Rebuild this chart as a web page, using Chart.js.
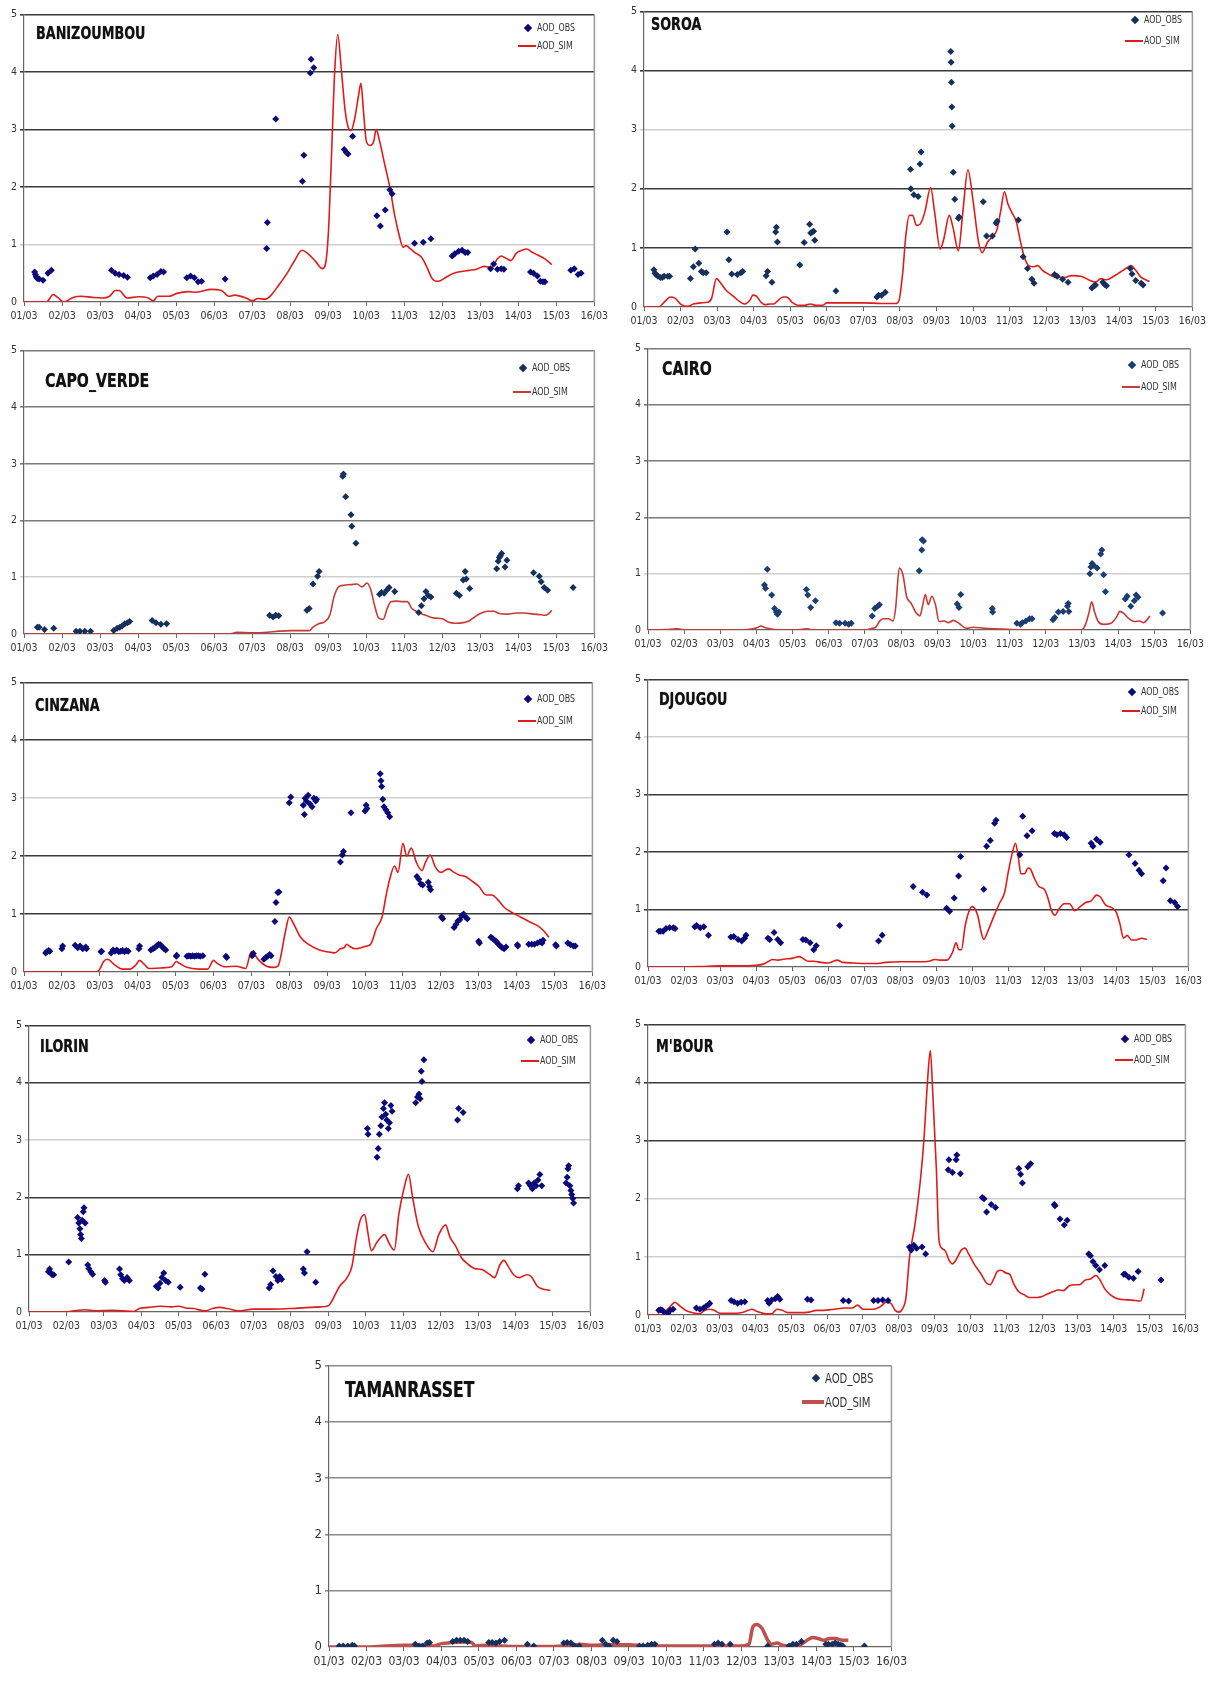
<!DOCTYPE html>
<html lang="en">
<head>
<meta charset="UTF-8">
<title>AOD observed vs simulated — 9 stations</title>
<script src="https://cdn.jsdelivr.net/npm/chart.js@4"></script>
<style>
  * { margin: 0; padding: 0; box-sizing: border-box; }
  body {
    width: 1210px; height: 1682px; position: relative; overflow: hidden; background: #fff;
    font-family: 'Liberation Sans Narrow', 'DejaVu Sans Condensed', sans-serif;
  }
  canvas { position: absolute; }
  .title { position: absolute; font-weight: bold; color: #111; white-space: nowrap; text-shadow: 0 0 1px #666;
           transform: scaleX(0.79); transform-origin: 0 50%; }
  .leg { position: absolute; color: #333; white-space: nowrap; transform: scaleX(0.8); transform-origin: 0 50%; }
  .dia { position: absolute; width: 6px; height: 6px; transform: rotate(45deg); }
  .ln { position: absolute; }
</style>
</head>
<body>
<script>
// x axis: days since 01/03 (0 = 01/03 ... 15 = 16/03)
const days = ['01/03','02/03','03/03','04/03','05/03','06/03','07/03','08/03',
              '09/03','10/03','11/03','12/03','13/03','14/03','15/03','16/03'];
const yTicks = [0, 1, 2, 3, 4, 5];

// ---- BANIZOUMBOU
const BAN_OBS = [[0.28,0.52],[0.3,0.48],[0.32,0.44],[0.35,0.41],[0.4,0.4],[0.5,0.38],[0.63,0.5],[0.72,0.55],
  [2.3,0.55],[2.4,0.5],[2.5,0.48],[2.62,0.46],[2.72,0.43],[3.32,0.42],[3.4,0.45],[3.5,0.48],[3.6,0.53],[3.67,0.52],
  [4.28,0.42],[4.38,0.45],[4.48,0.42],[4.58,0.35],[4.67,0.36],[5.29,0.4],[6.38,0.93],[6.4,1.38],[6.62,3.18],
  [7.32,2.1],[7.36,2.55],[7.53,3.98],[7.55,4.22],[7.62,4.07],[8.42,2.65],[8.48,2.6],[8.52,2.57],[8.64,2.88],
  [9.28,1.5],[9.37,1.32],[9.5,1.6],[9.62,1.95],[9.68,1.88],[10.27,1.02],[10.5,1.04],[10.7,1.1],
  [11.26,0.8],[11.33,0.84],[11.43,0.88],[11.52,0.9],[11.6,0.86],[11.67,0.86],
  [12.27,0.58],[12.35,0.66],[12.45,0.57],[12.55,0.58],[12.62,0.57],
  [13.32,0.52],[13.4,0.5],[13.5,0.45],[13.58,0.36],[13.65,0.35],[13.7,0.35],
  [14.38,0.55],[14.47,0.58],[14.57,0.48],[14.65,0.5]];
const BAN_SIM = [[0,0],[0.59,0],[0.77,0.13],[0.9,0.07],[1.04,0],[1.29,0.08],[1.5,0.1],[1.8,0.08],[2.05,0.07],[2.25,0.1],
  [2.4,0.2],[2.5,0.2],[2.71,0.07],[3.01,0.09],[3.27,0.07],[3.4,0.02],[3.52,0.1],[3.82,0.1],[4.02,0.15],[4.33,0.18],
  [4.53,0.17],[4.93,0.22],[5.19,0.2],[5.39,0.1],[5.54,0.12],[5.84,0.07],[6.0,0.02],[6.15,0.06],[6.35,0.05],
  [6.5,0.12],[6.65,0.25],[6.9,0.48],[7.1,0.7],[7.31,0.9],[7.45,0.85],[7.65,0.72],[7.85,0.58],[7.95,0.75],[8.02,1.4],
  [8.1,2.8],[8.17,4.0],[8.25,4.65],[8.35,4.0],[8.45,3.3],[8.55,3.0],[8.6,2.98],[8.7,3.2],[8.8,3.6],[8.86,3.8],
  [8.93,3.3],[9.0,2.8],[9.1,2.72],[9.2,2.8],[9.26,3.0],[9.35,2.8],[9.5,2.35],[9.62,2.0],[9.75,1.5],[9.87,1.15],
  [9.97,0.95],[10.05,0.98],[10.15,0.93],[10.3,0.85],[10.45,0.78],[10.6,0.6],[10.72,0.42],[10.85,0.36],[10.95,0.37],
  [11.1,0.43],[11.3,0.5],[11.5,0.53],[11.7,0.55],[11.9,0.57],[12.1,0.62],[12.3,0.6],[12.45,0.75],[12.55,0.8],
  [12.7,0.75],[12.8,0.72],[12.95,0.85],[13.1,0.9],[13.22,0.92],[13.35,0.87],[13.5,0.82],[13.7,0.75],[13.88,0.65]];

// ---- SOROA
const SOR_OBS = [[0.27,0.63],[0.3,0.57],[0.33,0.55],[0.38,0.52],[0.45,0.5],[0.5,0.5],[0.55,0.52],[0.65,0.52],[0.7,0.52],
  [1.27,0.48],[1.35,0.68],[1.4,0.98],[1.5,0.74],[1.57,0.6],[1.62,0.58],[1.7,0.58],
  [2.27,1.27],[2.32,0.8],[2.4,0.56],[2.55,0.55],[2.65,0.58],[2.7,0.6],
  [3.34,0.53],[3.38,0.6],[3.5,0.42],[3.6,1.27],[3.62,1.35],[3.65,1.1],
  [4.26,0.71],[4.38,1.09],[4.53,1.4],[4.56,1.25],[4.6,1.27],[4.64,1.28],[4.67,1.13],[5.25,0.27],
  [6.37,0.17],[6.42,0.2],[6.5,0.2],[6.6,0.25],
  [7.29,2.33],[7.3,2.0],[7.38,1.9],[7.5,1.87],[7.55,2.42],[7.58,2.62],
  [8.39,4.32],[8.4,4.14],[8.41,3.8],[8.42,3.38],[8.43,3.06],[8.46,2.28],[8.5,1.82],[8.6,1.5],[8.62,1.52],
  [9.28,1.78],[9.37,1.2],[9.53,1.2],[9.63,1.42],[9.66,1.45],
  [10.24,1.47],[10.37,0.85],[10.49,0.65],[10.61,0.47],[10.67,0.4],
  [11.23,0.55],[11.3,0.52],[11.45,0.47],[11.6,0.42],
  [12.25,0.32],[12.3,0.35],[12.35,0.37],[12.55,0.42],[12.6,0.38],[12.65,0.36],
  [13.3,0.65],[13.35,0.56],[13.45,0.45],[13.6,0.4],[13.65,0.37]];
const SOR_SIM = [[0,0],[0.4,0],[0.55,0.08],[0.72,0.17],[0.85,0.15],[1.0,0.05],[1.2,0.01],[1.35,0.05],[1.55,0.07],
  [1.75,0.08],[1.85,0.15],[1.98,0.48],[2.1,0.4],[2.25,0.28],[2.45,0.18],[2.6,0.1],[2.75,0.05],[2.9,0.12],[2.98,0.2],
  [3.08,0.18],[3.2,0.08],[3.3,0.04],[3.45,0.05],[3.55,0.05],[3.65,0.1],[3.8,0.17],[3.9,0.17],[4.05,0.08],[4.2,0.03],
  [4.4,0.03],[4.55,0.05],[4.7,0.03],[4.9,0.03],[5.0,0.07],[5.5,0.07],[6.0,0.07],[6.5,0.06],[6.9,0.06],[6.98,0.12],
  [7.08,0.6],[7.16,1.2],[7.26,1.55],[7.35,1.55],[7.45,1.38],[7.55,1.4],[7.68,1.6],[7.84,2.02],[7.95,1.6],[8.1,0.98],
  [8.2,1.15],[8.35,1.55],[8.45,1.35],[8.6,0.95],[8.72,1.6],[8.86,2.32],[9.0,1.8],[9.15,1.1],[9.25,0.92],[9.4,1.1],
  [9.55,1.2],[9.65,1.3],[9.75,1.6],[9.86,1.95],[9.95,1.75],[10.06,1.6],[10.18,1.45],[10.3,1.1],[10.4,0.85],
  [10.52,0.7],[10.65,0.68],[10.77,0.7],[10.9,0.62],[11.05,0.56],[11.3,0.5],[11.5,0.5],[11.7,0.53],[11.95,0.52],
  [12.2,0.45],[12.35,0.42],[12.5,0.48],[12.65,0.46],[12.85,0.52],[13.05,0.6],[13.2,0.66],[13.32,0.7],[13.45,0.62],
  [13.6,0.5],[13.72,0.46],[13.83,0.43]];

// ---- CAPO_VERDE
const CAP_OBS = [[0.35,0.12],[0.4,0.12],[0.54,0.08],[0.78,0.1],[1.37,0.05],[1.47,0.05],[1.6,0.05],[1.75,0.05],
  [2.36,0.06],[2.45,0.1],[2.52,0.12],[2.58,0.14],[2.65,0.18],[2.72,0.2],[2.78,0.22],
  [3.37,0.24],[3.47,0.2],[3.6,0.17],[3.75,0.18],[6.46,0.33],[6.55,0.3],[6.62,0.33],[6.7,0.32],
  [7.44,0.42],[7.5,0.45],[7.6,0.88],[7.72,1.02],[7.76,1.1],
  [8.38,2.78],[8.4,2.82],[8.46,2.42],[8.6,2.1],[8.62,1.9],[8.73,1.6],
  [9.35,0.7],[9.4,0.73],[9.47,0.72],[9.55,0.78],[9.6,0.82],[9.75,0.75],
  [10.38,0.38],[10.45,0.5],[10.52,0.62],[10.57,0.75],[10.63,0.68],[10.7,0.65],
  [11.37,0.72],[11.45,0.68],[11.55,0.95],[11.6,1.1],[11.63,0.97],[11.72,0.8],
  [12.43,1.15],[12.47,1.28],[12.5,1.35],[12.53,1.38],[12.56,1.42],[12.65,1.18],[12.7,1.3],
  [13.4,1.08],[13.55,1.02],[13.6,0.92],[13.68,0.82],[13.77,0.77],[14.44,0.82]];
const CAP_SIM = [[0,0],[5.4,0],[5.6,0.03],[6.0,0.02],[6.4,0.03],[6.7,0.05],[7.0,0.06],[7.3,0.06],[7.5,0.06],[7.6,0.12],
  [7.75,0.18],[7.92,0.22],[8.05,0.35],[8.15,0.65],[8.26,0.82],[8.41,0.86],[8.6,0.87],[8.76,0.88],[8.89,0.83],[9.02,0.9],
  [9.12,0.78],[9.22,0.5],[9.33,0.28],[9.45,0.26],[9.55,0.45],[9.65,0.57],[9.8,0.58],[9.95,0.57],[10.08,0.57],
  [10.2,0.45],[10.38,0.38],[10.6,0.32],[10.8,0.28],[11.0,0.27],[11.15,0.21],[11.35,0.19],[11.55,0.2],[11.7,0.23],
  [11.85,0.3],[12.0,0.36],[12.2,0.4],[12.35,0.4],[12.5,0.36],[12.72,0.35],[12.95,0.37],[13.15,0.37],[13.4,0.35],
  [13.6,0.34],[13.7,0.33],[13.8,0.36],[13.88,0.42]];

// ---- CAIRO
const CAI_OBS = [[3.22,0.8],[3.25,0.74],[3.3,1.08],[3.42,0.62],[3.5,0.38],[3.55,0.32],[3.58,0.28],[3.62,0.32],
  [4.38,0.72],[4.42,0.62],[4.5,0.4],[4.63,0.52],[5.2,0.13],[5.3,0.12],[5.45,0.12],[5.55,0.1],[5.62,0.12],
  [6.2,0.25],[6.27,0.38],[6.35,0.42],[6.4,0.45],[7.5,1.05],[7.57,1.42],[7.58,1.6],[7.62,1.58],
  [8.55,0.46],[8.6,0.4],[8.65,0.63],[9.52,0.38],[9.53,0.32],
  [10.2,0.12],[10.3,0.1],[10.35,0.13],[10.45,0.16],[10.55,0.2],[10.62,0.2],
  [11.2,0.18],[11.25,0.22],[11.35,0.32],[11.48,0.33],[11.6,0.42],[11.62,0.47],[11.64,0.33],
  [12.22,1.0],[12.25,1.12],[12.28,1.18],[12.32,1.15],[12.42,1.1],[12.52,1.35],[12.55,1.42],[12.6,0.98],[12.65,0.68],
  [13.2,0.55],[13.25,0.6],[13.35,0.42],[13.45,0.52],[13.5,0.62],[13.55,0.58],[14.23,0.3]];
const CAI_SIM = [[0,0],[0.5,0.01],[0.8,0.02],[1.1,0],[2.6,0],[2.9,0.02],[3.05,0.05],[3.12,0.07],[3.25,0.04],[3.5,0.01],
  [4.0,0],[4.4,0.02],[4.6,0],[6.0,0],[6.2,0.03],[6.3,0.05],[6.4,0.15],[6.5,0.2],[6.65,0.2],[6.78,0.16],[6.85,0.4],
  [6.95,1.1],[7.05,0.98],[7.15,0.6],[7.28,0.47],[7.42,0.3],[7.52,0.25],[7.6,0.45],[7.67,0.63],[7.75,0.45],[7.85,0.6],
  [7.95,0.45],[8.05,0.15],[8.2,0.16],[8.3,0.13],[8.45,0.17],[8.6,0.12],[8.8,0.03],[9.0,0.05],[9.3,0.03],[10.0,0.01],
  [11.0,0],[12.0,0],[12.1,0.1],[12.2,0.32],[12.27,0.5],[12.35,0.32],[12.45,0.15],[12.6,0.1],[12.8,0.12],[12.95,0.22],
  [13.05,0.33],[13.15,0.3],[13.3,0.2],[13.45,0.15],[13.6,0.16],[13.7,0.13],[13.8,0.18],[13.88,0.25]];

// ---- CINZANA
const CIN_OBS = [[0.57,0.33],[0.6,0.35],[0.65,0.37],[0.68,0.36],[1.0,0.4],[1.02,0.45],
  [1.35,0.46],[1.42,0.42],[1.48,0.45],[1.55,0.4],[1.63,0.43],[1.65,0.4],[2.03,0.35],[2.05,0.36],
  [2.3,0.33],[2.35,0.38],[2.4,0.36],[2.45,0.38],[2.5,0.35],[2.55,0.36],[2.6,0.37],[2.65,0.35],[2.7,0.37],[2.75,0.36],
  [3.03,0.4],[3.05,0.45],[3.35,0.38],[3.4,0.4],[3.45,0.42],[3.5,0.45],[3.55,0.48],[3.6,0.47],[3.65,0.43],[3.7,0.4],[3.74,0.38],
  [4.02,0.27],[4.03,0.29],[4.3,0.27],[4.35,0.28],[4.4,0.27],[4.45,0.28],[4.5,0.27],[4.55,0.28],[4.6,0.28],[4.65,0.27],[4.72,0.28],
  [5.33,0.27],[5.35,0.25],[6.02,0.28],[6.05,0.32],[6.33,0.22],[6.38,0.25],[6.43,0.27],[6.48,0.3],[6.52,0.28],
  [6.62,0.87],[6.65,1.2],[6.7,1.37],[6.73,1.38],[7.0,2.92],[7.04,3.02],
  [7.37,2.88],[7.4,2.72],[7.42,3.0],[7.45,2.95],[7.5,3.05],[7.55,2.9],[7.6,2.85],[7.65,3.0],[7.7,2.95],[7.72,2.98],
  [8.35,1.9],[8.4,2.02],[8.43,2.08],[8.63,2.75],[9.0,2.78],[9.03,2.88],[9.05,2.82],
  [9.4,3.42],[9.42,3.3],[9.44,3.2],[9.47,2.98],[9.5,2.85],[9.55,2.8],[9.6,2.75],[9.65,2.68],
  [10.37,1.65],[10.42,1.6],[10.47,1.52],[10.52,1.5],[10.67,1.55],[10.7,1.47],[10.73,1.42],[11.02,0.95],[11.05,0.92],
  [11.35,0.77],[11.4,0.82],[11.45,0.88],[11.5,0.9],[11.55,0.97],[11.6,1.0],[11.65,0.95],[11.7,0.92],[12.0,0.53],[12.02,0.5],
  [12.32,0.6],[12.37,0.58],[12.42,0.55],[12.47,0.52],[12.52,0.48],[12.57,0.45],[12.62,0.42],[12.67,0.4],[12.72,0.43],
  [13.02,0.47],[13.03,0.45],[13.32,0.48],[13.4,0.48],[13.47,0.48],[13.55,0.5],[13.62,0.52],[13.67,0.5],[13.7,0.55],
  [14.03,0.47],[14.05,0.45],[14.35,0.5],[14.42,0.47],[14.5,0.45],[14.55,0.45]];
const CIN_SIM = [[0,0],[1.9,0],[2.0,0.05],[2.1,0.18],[2.2,0.22],[2.4,0.12],[2.6,0.05],[2.8,0.05],[2.95,0.12],[3.05,0.2],
  [3.15,0.15],[3.3,0.06],[3.6,0.07],[3.9,0.09],[4.02,0.18],[4.1,0.15],[4.3,0.08],[4.6,0.05],[4.85,0.05],[5.0,0.2],
  [5.1,0.15],[5.3,0.09],[5.6,0.1],[5.85,0.06],[6.0,0.35],[6.05,0.33],[6.2,0.2],[6.4,0.1],[6.6,0.08],[6.7,0.1],
  [6.9,0.7],[7.0,0.95],[7.1,0.85],[7.3,0.6],[7.5,0.48],[7.8,0.38],[8.0,0.35],[8.2,0.33],[8.35,0.4],[8.45,0.42],
  [8.52,0.48],[8.6,0.44],[8.75,0.4],[8.9,0.42],[9.05,0.45],[9.15,0.48],[9.3,0.75],[9.45,0.95],[9.55,1.3],[9.65,1.6],
  [9.78,1.83],[9.87,1.72],[10.0,2.22],[10.1,2.0],[10.22,2.14],[10.35,1.9],[10.5,1.75],[10.6,1.9],[10.72,2.02],
  [10.85,1.82],[11.0,1.72],[11.2,1.78],[11.35,1.72],[11.5,1.67],[11.65,1.65],[11.8,1.58],[12.0,1.48],[12.2,1.33],
  [12.35,1.33],[12.5,1.25],[12.7,1.1],[12.9,1.02],[13.1,0.95],[13.3,0.88],[13.55,0.8],[13.7,0.72],[13.85,0.6]];

// ---- DJOUGOU
const DJO_OBS = [[0.3,0.62],[0.35,0.62],[0.42,0.62],[0.5,0.67],[0.6,0.68],[0.7,0.68],[0.75,0.67],
  [1.3,0.7],[1.35,0.72],[1.45,0.68],[1.55,0.7],[1.68,0.55],[2.3,0.52],[2.38,0.53],[2.5,0.48],[2.6,0.45],[2.68,0.5],[2.72,0.55],
  [3.33,0.5],[3.38,0.48],[3.5,0.6],[3.6,0.48],[3.68,0.42],[4.3,0.48],[4.38,0.47],[4.5,0.42],[4.6,0.3],[4.67,0.37],
  [5.32,0.72],[6.4,0.45],[6.5,0.55],[7.36,1.4],[7.62,1.3],[7.74,1.25],
  [8.29,1.02],[8.37,0.97],[8.5,1.2],[8.62,1.58],[8.68,1.92],[9.32,1.35],[9.4,2.1],[9.5,2.2],[9.62,2.5],[9.66,2.55],
  [10.32,1.95],[10.4,2.62],[10.52,2.28],[10.66,2.37],[11.28,2.32],[11.35,2.3],[11.45,2.32],[11.55,2.3],[11.62,2.25],
  [12.3,2.15],[12.35,2.1],[12.45,2.22],[12.55,2.17],[13.35,1.95],[13.52,1.8],[13.63,1.68],[13.7,1.62],
  [14.3,1.5],[14.38,1.72],[14.5,1.15],[14.62,1.12],[14.7,1.05]];
const DJO_SIM = [[0,0],[1.0,0],[1.5,0.01],[2.0,0.02],[2.5,0.02],[3.0,0.03],[3.2,0.05],[3.35,0.1],[3.45,0.13],[3.6,0.12],
  [3.8,0.14],[4.0,0.15],[4.1,0.17],[4.2,0.18],[4.3,0.15],[4.45,0.1],[4.6,0.1],[4.8,0.08],[5.0,0.07],[5.15,0.1],
  [5.25,0.12],[5.4,0.08],[5.7,0.07],[6.0,0.06],[6.3,0.06],[6.6,0.08],[7.0,0.09],[7.5,0.09],[7.8,0.1],[7.95,0.13],
  [8.1,0.12],[8.3,0.12],[8.45,0.25],[8.55,0.42],[8.63,0.3],[8.7,0.3],[8.8,0.7],[8.9,0.95],[9.0,1.05],[9.15,0.9],
  [9.25,0.6],[9.32,0.48],[9.45,0.65],[9.6,0.88],[9.75,1.1],[9.9,1.3],[10.0,1.65],[10.12,2.0],[10.2,2.15],[10.28,1.9],
  [10.35,1.62],[10.45,1.62],[10.55,1.72],[10.62,1.7],[10.72,1.55],[10.85,1.4],[11.0,1.35],[11.1,1.2],[11.2,0.98],
  [11.3,0.9],[11.4,1.0],[11.55,1.1],[11.7,1.1],[11.85,0.98],[12.0,1.05],[12.15,1.12],[12.3,1.15],[12.45,1.25],
  [12.55,1.22],[12.7,1.08],[12.9,1.02],[13.0,0.95],[13.1,0.75],[13.2,0.5],[13.3,0.55],[13.42,0.47],[13.55,0.47],
  [13.7,0.5],[13.85,0.48]];

// ---- ILORIN
const ILO_OBS = [[0.52,0.7],[0.55,0.75],[0.58,0.68],[0.62,0.65],[0.66,0.65],[1.06,0.87],
  [1.3,1.65],[1.33,1.55],[1.36,1.45],[1.38,1.35],[1.4,1.28],[1.42,1.6],[1.45,1.75],[1.47,1.82],[1.5,1.55],
  [1.57,0.82],[1.6,0.76],[1.65,0.7],[1.7,0.66],[2.02,0.55],[2.04,0.52],
  [2.42,0.75],[2.45,0.65],[2.5,0.58],[2.55,0.55],[2.62,0.6],[2.68,0.55],
  [3.4,0.45],[3.45,0.42],[3.5,0.5],[3.55,0.6],[3.6,0.68],[3.65,0.55],[3.72,0.52],[4.04,0.43],
  [4.58,0.42],[4.62,0.4],[4.7,0.66],[6.42,0.42],[6.46,0.48],[6.52,0.72],[6.6,0.62],[6.65,0.55],[6.7,0.62],[6.75,0.57],
  [7.33,0.75],[7.36,0.68],[7.43,1.05],[7.66,0.52],
  [9.04,3.2],[9.06,3.1],[9.3,2.7],[9.33,2.85],[9.36,3.1],[9.4,3.25],[9.43,3.4],[9.47,3.55],[9.5,3.65],[9.53,3.45],
  [9.56,3.35],[9.6,3.2],[9.63,3.3],[9.67,3.6],[9.7,3.5],
  [10.33,3.65],[10.38,3.75],[10.42,3.8],[10.45,3.72],[10.48,4.2],[10.5,4.02],[10.55,4.4],
  [11.45,3.35],[11.48,3.55],[11.6,3.48],
  [13.05,2.15],[13.08,2.2],[13.35,2.25],[13.4,2.2],[13.45,2.15],[13.5,2.25],[13.55,2.2],[13.6,2.3],[13.65,2.4],[13.7,2.2],
  [14.35,2.25],[14.38,2.35],[14.4,2.5],[14.42,2.55],[14.45,2.2],[14.48,2.12],[14.5,2.05],[14.53,1.98],[14.55,1.9]];
const ILO_SIM = [[0,0],[1.0,0],[1.2,0.02],[1.5,0.04],[1.8,0.02],[2.2,0.03],[2.5,0.02],[2.8,0.01],[2.95,0.06],[3.2,0.08],
  [3.5,0.1],[3.8,0.09],[4.0,0.1],[4.2,0.07],[4.4,0.06],[4.7,0.02],[4.9,0.06],[5.1,0.08],[5.3,0.06],[5.6,0.02],[6.0,0.05],
  [6.5,0.05],[7.0,0.06],[7.5,0.08],[7.8,0.09],[8.0,0.11],[8.1,0.2],[8.3,0.45],[8.5,0.6],[8.63,0.8],[8.75,1.3],
  [8.85,1.6],[8.97,1.7],[9.05,1.4],[9.15,1.07],[9.3,1.22],[9.5,1.35],[9.62,1.2],[9.76,1.08],[9.88,1.7],[10.0,2.1],
  [10.14,2.4],[10.25,2.0],[10.4,1.5],[10.6,1.2],[10.79,1.05],[10.95,1.35],[11.13,1.52],[11.25,1.3],[11.4,1.15],
  [11.55,0.95],[11.7,0.85],[11.9,0.76],[12.1,0.74],[12.3,0.66],[12.44,0.6],[12.58,0.82],[12.69,0.9],[12.8,0.8],
  [12.95,0.65],[13.1,0.6],[13.3,0.65],[13.42,0.62],[13.58,0.45],[13.72,0.4],[13.93,0.38]];

// ---- M'BOUR
const MBO_OBS = [[0.3,0.08],[0.35,0.09],[0.4,0.08],[0.45,0.05],[0.55,0.03],[0.62,0.08],[0.7,0.1],
  [1.35,0.12],[1.45,0.1],[1.55,0.12],[1.62,0.15],[1.7,0.18],[1.72,0.2],
  [2.32,0.25],[2.4,0.23],[2.5,0.2],[2.6,0.22],[2.7,0.23],[3.34,0.25],[3.38,0.2],[3.45,0.26],[3.55,0.28],[3.62,0.32],[3.68,0.27],
  [4.45,0.27],[4.55,0.26],[5.45,0.25],[5.6,0.24],[6.3,0.25],[6.42,0.25],[6.55,0.26],[6.7,0.25],
  [7.3,1.17],[7.35,1.12],[7.42,1.2],[7.5,1.15],[7.65,1.17],[7.75,1.05],
  [8.38,2.5],[8.4,2.67],[8.5,2.45],[8.6,2.67],[8.62,2.75],[8.72,2.43],
  [9.33,2.02],[9.38,2.0],[9.45,1.77],[9.58,1.9],[9.7,1.85],[10.35,2.52],[10.4,2.42],[10.45,2.27],[10.6,2.55],[10.68,2.6],
  [11.34,1.9],[11.36,1.88],[11.5,1.65],[11.62,1.55],[11.7,1.63],
  [12.3,1.05],[12.35,1.02],[12.42,0.92],[12.5,0.85],[12.6,0.78],[12.75,0.85],
  [13.28,0.7],[13.32,0.7],[13.42,0.65],[13.55,0.63],[13.68,0.75],[14.32,0.6]];
const MBO_SIM = [[0,0],[0.35,0],[0.55,0.1],[0.7,0.2],[0.75,0.22],[0.9,0.15],[1.05,0.08],[1.25,0.04],[1.45,0.02],[1.55,0.07],
  [1.7,0.1],[1.85,0.08],[2.0,0.03],[2.3,0.03],[2.6,0.04],[2.8,0.08],[2.9,0.1],[3.05,0.06],[3.3,0.02],[3.45,0.02],[3.6,0.1],
  [3.75,0.08],[3.9,0.04],[4.2,0.04],[4.5,0.05],[4.7,0.08],[4.9,0.08],[5.2,0.1],[5.5,0.12],[5.7,0.12],[5.85,0.17],
  [6.0,0.1],[6.3,0.1],[6.5,0.15],[6.65,0.22],[6.78,0.2],[6.9,0.08],[7.0,0.05],[7.1,0.1],[7.2,0.3],[7.3,1.0],[7.45,1.55],
  [7.6,2.3],[7.7,3.0],[7.8,4.0],[7.88,4.55],[7.95,3.8],[8.05,2.5],[8.12,1.3],[8.2,1.15],[8.3,1.1],[8.4,0.95],[8.5,0.88],
  [8.6,0.95],[8.75,1.12],[8.85,1.15],[8.95,1.05],[9.1,0.88],[9.3,0.7],[9.45,0.55],[9.55,0.52],[9.65,0.62],[9.75,0.75],
  [9.85,0.77],[10.0,0.72],[10.1,0.7],[10.2,0.55],[10.35,0.4],[10.5,0.35],[10.65,0.3],[10.85,0.3],[11.0,0.32],
  [11.15,0.36],[11.3,0.4],[11.45,0.43],[11.6,0.42],[11.75,0.5],[11.9,0.52],[12.05,0.52],[12.2,0.6],[12.35,0.62],
  [12.5,0.68],[12.6,0.62],[12.75,0.45],[12.9,0.35],[13.1,0.28],[13.4,0.26],[13.6,0.25],[13.75,0.24],[13.85,0.45]];

// ---- TAMANRASSET
const TAM_OBS = [[0.27,0.02],[0.38,0.02],[0.5,0.02],[0.62,0.03],[0.68,0.02],
  [2.3,0.05],[2.4,0.02],[2.5,0.02],[2.62,0.07],[2.68,0.08],[3.3,0.1],[3.4,0.12],[3.5,0.12],[3.6,0.12],[3.7,0.1],
  [4.26,0.08],[4.35,0.08],[4.45,0.07],[4.55,0.1],[4.68,0.12],[5.29,0.05],[5.46,0.02],
  [6.26,0.07],[6.35,0.08],[6.45,0.07],[6.55,0.02],[6.67,0.02],[7.29,0.12],[7.38,0.05],[7.47,0.02],[7.58,0.12],[7.68,0.1],
  [8.28,0.02],[8.38,0.02],[8.5,0.03],[8.6,0.05],[8.69,0.05],[10.28,0.05],[10.38,0.07],[10.48,0.05],[10.7,0.05],
  [11.7,0.02],[12.27,0.02],[12.37,0.05],[12.47,0.05],[12.6,0.1],
  [13.25,0.05],[13.32,0.05],[13.42,0.05],[13.5,0.07],[13.58,0.05],[13.65,0.03],[13.7,0.02],[14.28,0.02]];
const TAM_SIM = [[0,0],[1.0,0],[1.5,0.02],[2.0,0.03],[2.5,0.03],[2.8,0.02],[3.0,0.06],[3.3,0.08],[3.6,0.09],[3.8,0.08],
  [3.9,0.02],[4.2,0.03],[4.5,0.02],[5.0,0.01],[6.0,0.01],[6.5,0.03],[6.7,0.05],[7.0,0.03],[7.5,0.04],[8.0,0.04],
  [8.5,0.02],[9.0,0.02],[9.5,0.02],[10.0,0.02],[10.5,0.02],[11.0,0.02],[11.2,0.05],[11.3,0.35],[11.4,0.4],[11.55,0.33],
  [11.7,0.12],[11.8,0.05],[11.95,0.07],[12.1,0.03],[12.3,0.02],[12.6,0.05],[12.75,0.12],[12.9,0.17],[13.05,0.15],
  [13.2,0.12],[13.35,0.15],[13.5,0.15],[13.7,0.12],[13.85,0.12]];

// layout (page px): plot rectangle [left, top, right, bottom], title [x, centerY, size], legend [textX, row1Y, row2Y]
const panels = [
  { name:'BANIZOUMBOU', obs:BAN_OBS, sim:BAN_SIM, plot:[24,13,596,302],   title:[36,33,18],  leg:[537,28,46],   light:[1], grid:'#3a3a3a', obsC:'#0a0a78', simC:'#e01b1b' },
  { name:'SOROA',       obs:SOR_OBS, sim:SOR_SIM, plot:[644,10,1194,307], title:[651,24,18], leg:[1144,20,41], light:[3], grid:'#3a3a3a', obsC:'#16305e', simC:'#e01b1b' },
  { name:'CAPO_VERDE',  obs:CAP_OBS, sim:CAP_SIM, plot:[24,349,596,634],  title:[45,380,20], leg:[532,368,392], light:[1], grid:'#7a7a7a', obsC:'#16305e', simC:'#c83a36' },
  { name:'CAIRO',       obs:CAI_OBS, sim:CAI_SIM, plot:[648,347,1192,630],title:[662,368,20],leg:[1141,365,387],light:[1], grid:'#7a7a7a', obsC:'#1b3d72', simC:'#c83a36' },
  { name:'CINZANA',     obs:CIN_OBS, sim:CIN_SIM, plot:[24,681,594,972],  title:[35,705,18], leg:[537,699,721], light:[3], grid:'#3a3a3a', obsC:'#0a0a78', simC:'#e01b1b' },
  { name:'DJOUGOU',     obs:DJO_OBS, sim:DJO_SIM, plot:[648,678,1190,967],title:[659,699,18],leg:[1141,692,711],light:[4], grid:'#3a3a3a', obsC:'#0a0a78', simC:'#e01b1b' },
  { name:'ILORIN',      obs:ILO_OBS, sim:ILO_SIM, plot:[29,1024,592,1312],title:[40,1046,18],leg:[540,1040,1061],light:[3], grid:'#3a3a3a', obsC:'#0a0a78', simC:'#e01b1b' },
  { name:"M'BOUR",      obs:MBO_OBS, sim:MBO_SIM, plot:[648,1023,1187,1315],title:[656,1046,18],leg:[1134,1039,1060],light:[1,2], grid:'#3a3a3a', obsC:'#0a0a78', simC:'#e01b1b' },
  { name:'TAMANRASSET', obs:TAM_OBS, sim:TAM_SIM, plot:[329,1363,895,1647],title:[345,1390,22],leg:[825,1378,1402],light:[], grid:'#8a8a8a', obsC:'#16305e', simC:'#c0504d', big:true },
];

const FONT = "'Liberation Sans Narrow', 'DejaVu Sans Condensed', sans-serif";
const YW = 22, XH = 24, PT = 8, PR = 16;

// thin frame on the right side of the plot area, like the Excel plot border
const framePlugin = {
  id: 'frame',
  afterDraw(chart) {
    const a = chart.chartArea, c = chart.ctx;
    c.save();
    c.strokeStyle = '#9a9a9a';
    c.lineWidth = 1.5;
    c.beginPath();
    c.moveTo(a.right, a.top); c.lineTo(a.right, a.bottom);
    c.stroke();
    c.restore();
  }
};

function place(cls, x, y, text, css) {
  const d = document.createElement('div');
  d.className = cls;
  d.style.left = x + 'px';
  d.style.top = y + 'px';
  if (text) d.textContent = text;
  Object.assign(d.style, css || {});
  document.body.appendChild(d);
  return d;
}

panels.forEach(p => {
  const [L, T, R, B] = p.plot;
  const cv = document.createElement('canvas');
  cv.width = (R - L) + YW + PR;
  cv.height = (B - T) + PT + XH;
  cv.style.left = (L - YW) + 'px';
  cv.style.top = (T - PT) + 'px';
  document.body.appendChild(cv);

  const tickSize = p.big ? 12 : 10.5;
  new Chart(cv, {
    data: {
      datasets: [
        { type: 'scatter', label: 'AOD_OBS', data: p.obs.map(([x, y]) => ({ x, y })),
          pointStyle: 'rectRot', radius: 3.5, backgroundColor: p.obsC, borderColor: p.obsC, borderWidth: 0 },
        { type: 'line', label: 'AOD_SIM', data: p.sim.map(([x, y]) => ({ x, y })),
          borderColor: p.simC, borderWidth: p.big ? 3.5 : 1.6, pointRadius: 0,
          cubicInterpolationMode: 'monotone', fill: false }
      ]
    },
    options: {
      responsive: false, animation: false, devicePixelRatio: 1,
      layout: { padding: { top: PT, right: PR, left: 0, bottom: 0 } },
      plugins: { legend: { display: false }, tooltip: { enabled: false } },
      scales: {
        x: {
          type: 'linear', min: 0, max: days.length - 1,
          afterFit: s => { s.height = XH; },
          border: { color: '#666', width: 1.2 },
          grid: { drawOnChartArea: false, color: '#666', tickLength: 4 },
          ticks: { stepSize: 1, autoSkip: false, maxRotation: 0, padding: 4, color: '#333',
                   font: { family: FONT, size: tickSize }, callback: v => days[v] }
        },
        y: {
          min: yTicks[0], max: yTicks[yTicks.length - 1],
          afterFit: s => { s.width = YW; },
          afterBuildTicks: s => { s.ticks = yTicks.map(v => ({ value: v })); },
          border: { color: '#666', width: 1.2 },
          grid: {
            color: c => (c.tick && p.light.includes(c.tick.value)) ? '#cfcfcf' : p.grid,
            lineWidth: c => (c.tick && c.tick.value === 0) ? 0 : 1.6,
            tickLength: 4
          },
          ticks: { padding: 3, color: '#333', font: { family: FONT, size: p.big ? 13 : 10.5 } }
        }
      }
    },
    plugins: [framePlugin]
  });

  // station name
  const [tx, ty, ts] = p.title;
  place('title', tx, ty - ts * 0.6, p.name, { fontSize: ts + 'px', lineHeight: '1.2' });

  // legend
  const [lx, r1, r2] = p.leg;
  const ls = p.big ? 14 : 11;
  place('leg', lx, r1 - ls * 0.6, 'AOD_OBS', { fontSize: ls + 'px', lineHeight: '1.2' });
  place('leg', lx, r2 - ls * 0.6, 'AOD_SIM', { fontSize: ls + 'px', lineHeight: '1.2' });
  place('dia', lx - 12, r1 - 3, '', { background: p.obsC });
  const lw = p.big ? 22 : 18, lh = p.big ? 4 : 2;
  place('ln', lx - lw - 1, r2 - lh / 2, '', { width: lw + 'px', height: lh + 'px', background: p.simC });
});
</script>
</body>
</html>
